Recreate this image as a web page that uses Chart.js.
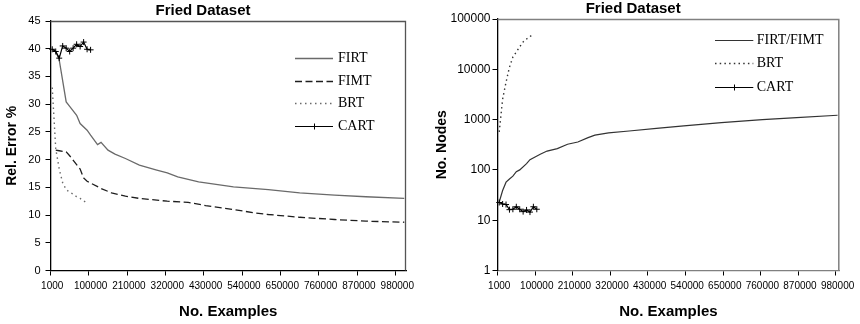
<!DOCTYPE html>
<html><head><meta charset="utf-8">
<script src="https://cdn.jsdelivr.net/npm/chart.js@4/dist/chart.umd.min.js"></script>
<style>
html,body{margin:0;padding:0;background:#fff;}
#wrap{position:relative;width:860px;height:324px;overflow:hidden;background:#fff;}
#c1{position:absolute;left:0;top:0;}
#c2{position:absolute;left:427px;top:0;}
</style></head><body>
<div id="wrap"><canvas id="c1" width="419" height="324"></canvas><canvas id="c2" width="433" height="324"></canvas></div>
<script>
// ---- categories (No. Examples) ----
const exampleLabels = [1000, 5000,
 10000, 20000, 30000, 40000, 50000, 60000, 70000, 80000, 90000, 100000,
 110000, 120000, 130000, 140000, 150000, 160000, 170000, 180000, 190000, 200000,
 210000, 220000, 230000, 240000, 250000, 260000, 270000, 280000, 290000, 300000,
 310000, 320000, 330000, 340000, 350000, 360000, 370000, 380000, 390000, 400000,
 410000, 420000, 430000, 440000, 450000, 460000, 470000, 480000, 490000, 500000,
 510000, 520000, 530000, 540000, 550000, 560000, 570000, 580000, 590000, 600000,
 610000, 620000, 630000, 640000, 650000, 660000, 670000, 680000, 690000, 700000,
 710000, 720000, 730000, 740000, 750000, 760000, 770000, 780000, 790000, 800000,
 810000, 820000, 830000, 840000, 850000, 860000, 870000, 880000, 890000, 900000,
 910000, 920000, 930000, 940000, 950000, 960000, 970000, 980000, 990000, 1000000];
const nodeChartLabels = exampleLabels.slice(0, 100);
const xLabelEvery = 11;

// ---- left chart: Rel. Error % ----
const firtX = [1000, 5000, 10000, 30000, 40000, 60000, 70000, 90000, 100000, 120000, 130000, 150000, 170000, 200000, 240000, 290000, 320000, 350000, 410000, 510000, 610000, 700000, 800000, 890000, 1000000];
const firtErr = [39.9, 39.5, 38.0, 30.4, 29.6, 28.0, 26.5, 25.3, 24.4, 22.7, 23.1, 21.7, 21.0, 20.2, 19.0, 18.1, 17.6, 16.9, 16.0, 15.1, 14.6, 14.0, 13.6, 13.3, 13.0];
const fimtX = [5000, 10000, 30000, 40000, 70000, 80000, 90000, 130000, 160000, 200000, 240000, 320000, 380000, 430000, 510000, 570000, 610000, 700000, 800000, 890000, 1000000];
const fimtErr = [21.7, 21.6, 21.4, 20.7, 18.3, 16.7, 16.1, 14.8, 14.0, 13.4, 13.0, 12.5, 12.3, 11.7, 11.0, 10.4, 10.1, 9.6, 9.2, 8.9, 8.7];
const brtX = [1000, 5000, 10000, 20000, 30000, 40000, 50000, 60000, 70000, 80000, 90000];
const brtErr = [33.0, 22.0, 18.3, 15.8, 14.6, 14.1, 13.8, 13.3, 13.0, 12.6, 12.1];
const cartX = [1000, 5000, 10000, 20000, 30000, 40000, 50000, 60000, 70000, 80000, 90000, 100000];
const cartErr = [39.9, 39.5, 38.3, 40.5, 40.1, 39.5, 40.1, 40.8, 40.4, 41.2, 39.9, 39.8];
const errTickMin = 0, errTickMax = 45, errTickStep = 5;

// ---- right chart: No. Nodes (log) ----
const firtNodesX = [1000, 5000, 10000, 20000, 30000, 40000, 50000, 70000, 80000, 110000, 130000, 160000, 190000, 220000, 250000, 270000, 310000, 370000, 450000, 530000, 640000, 760000, 860000, 980000];
const firtNodes = [23, 39, 57, 66, 75, 92, 100, 133, 160, 205, 237, 265, 323, 359, 438, 490, 545, 593, 668, 750, 870, 1000, 1090, 1220];
const brtNodesX = [1000, 5000, 10000, 20000, 30000, 40000, 50000, 60000, 70000, 80000, 90000];
const brtNodes = [569, 2550, 5560, 11000, 17500, 22000, 28000, 35000, 40000, 44800, 49600];
const cartNodesX = [1000, 5000, 10000, 20000, 30000, 40000, 50000, 60000, 70000, 80000, 90000, 100000];
const cartNodes = [22.5, 21, 20.5, 16.2, 16.5, 18.5, 16.5, 14.8, 16, 14.5, 18.5, 16.5];
const nodeTicks = [1, 10, 100, 1000, 10000, 100000];

const SANS = "'Liberation Sans', Arial, sans-serif";
const SERIF = "'Liberation Serif', 'Times New Roman', serif";
Chart.defaults.color = '#000';
Chart.defaults.font.family = SANS;

const pts = (xs, ys) => xs.map((x, i) => ({x: x, y: ys[i]}));

const frame = {
  id: 'frame',
  beforeDatasetsDraw(chart, args, opts) {
    const {ctx, chartArea: a} = chart;
    ctx.save();
    ctx.strokeStyle = opts.color; ctx.lineWidth = opts.width;
    ctx.beginPath();
    ctx.moveTo(a.left, a.top + 0.5); ctx.lineTo(a.right - 0.5, a.top + 0.5); ctx.lineTo(a.right - 0.5, a.bottom);
    ctx.stroke();
    ctx.restore();
  }
};

const insideLegend = {
  id: 'insideLegend',
  afterDraw(chart, args, opts) {
    const {ctx, chartArea: a} = chart;
    ctx.save();
    ctx.font = opts.font;
    ctx.textBaseline = 'middle';
    ctx.textAlign = 'left';
    chart.data.datasets.forEach((ds, i) => {
      const y = Math.round(a.top + opts.y0 + i * opts.step) + 0.5;
      const x0 = a.right + opts.x0, x1 = a.right + opts.x1;
      ctx.save();
      ctx.strokeStyle = ds.borderColor; ctx.lineWidth = ds.borderWidth;
      ctx.setLineDash(ds.borderDash || []);
      ctx.beginPath(); ctx.moveTo(x0, y); ctx.lineTo(x1, y); ctx.stroke();
      ctx.restore();
      if (ds.pointRadius > 0) {
        const cx = Math.round((x0 + x1) / 2) + 0.5, r = ds.pointRadius;
        ctx.save(); ctx.strokeStyle = ds.pointBorderColor; ctx.lineWidth = 1;
        ctx.beginPath(); ctx.moveTo(cx, y - r); ctx.lineTo(cx, y + r); ctx.moveTo(cx - r, y); ctx.lineTo(cx + r, y); ctx.stroke();
        ctx.restore();
      }
      ctx.fillStyle = '#000';
      ctx.fillText(ds.label, a.right + opts.tx, y);
    });
    ctx.restore();
  }
};

function xScale(labelsArr, bottomColor) {
  return {
    type: 'category',
    offset: true,
    afterFit: s => { s.height = 53.5; },
    border: {display: true, color: bottomColor, width: 1.3},
    grid: {offset: true, drawOnChartArea: false, drawTicks: true, tickLength: 5, lineWidth: 1,
      color: c => (c.index % xLabelEvery === 0 && c.index < labelsArr.length) ? '#000' : 'rgba(0,0,0,0)'},
    ticks: {autoSkip: false, maxRotation: 0, minRotation: 0, padding: 5, color: '#000',
      font: {size: 10, family: SANS},
      callback: function(v, i) { return i % xLabelEvery === 0 ? String(this.getLabelForValue(v)) : ''; }},
    title: {display: true, text: 'No. Examples', color: '#000', font: {size: 15, weight: 'bold', family: SANS}, padding: {top: 0, bottom: 3}}
  };
}

new Chart(document.getElementById('c1'), {
  type: 'line',
  data: {
    labels: exampleLabels,
    datasets: [
      {label: 'FIRT', data: pts(firtX, firtErr), borderColor: '#6a6a6a', borderWidth: 1.3, pointRadius: 0, tension: 0},
      {label: 'FIMT', data: pts(fimtX, fimtErr), borderColor: '#1e1e1e', borderWidth: 1.3, borderDash: [7, 3.5], pointRadius: 0, tension: 0},
      {label: 'BRT', data: pts(brtX, brtErr), borderColor: '#6a6a6a', borderWidth: 1.4, borderDash: [1.5, 3.5], pointRadius: 0, tension: 0},
      {label: 'CART', data: pts(cartX, cartErr), borderColor: '#000', borderWidth: 1.2, pointRadius: 3, pointStyle: 'cross', pointBorderColor: '#000', pointBorderWidth: 1, tension: 0, order: -1}
    ]
  },
  options: {
    responsive: false, animation: false, events: [],
    layout: {padding: {left: 0, right: 13, top: 0, bottom: 0}},
    plugins: {
      legend: {display: false}, tooltip: {enabled: false},
      title: {display: true, text: 'Fried Dataset', color: '#000', font: {size: 15, weight: 'bold', family: SANS}, padding: {top: 1.5, bottom: 1.5}},
      frame: {color: '#555', width: 1.3},
      insideLegend: {font: '14px ' + SERIF, x0: -111, x1: -73, tx: -68, y0: 37, step: 22.7}
    },
    scales: {
      x: xScale(exampleLabels, '#000'),
      y: {
        type: 'linear', min: errTickMin, max: errTickMax,
        afterFit: s => { s.width = 50.5; },
        border: {display: true, color: '#000', width: 1.3},
        grid: {drawOnChartArea: false, drawTicks: true, tickLength: 5, color: '#000'},
        ticks: {stepSize: errTickStep, padding: 5, color: '#000', font: {size: 11, family: SANS}},
        title: {display: true, text: 'Rel. Error %', color: '#000', font: {size: 14, weight: 'bold', family: SANS}, padding: {top: 4, bottom: 0}}
      }
    }
  },
  plugins: [frame, insideLegend]
});

new Chart(document.getElementById('c2'), {
  type: 'line',
  data: {
    labels: nodeChartLabels,
    datasets: [
      {label: 'FIRT/FIMT', data: pts(firtNodesX, firtNodes), borderColor: '#333', borderWidth: 1.2, pointRadius: 0, tension: 0},
      {label: 'BRT', data: pts(brtNodesX, brtNodes), borderColor: '#333', borderWidth: 1.4, borderDash: [1.5, 3.2], pointRadius: 0, tension: 0},
      {label: 'CART', data: pts(cartNodesX, cartNodes), borderColor: '#000', borderWidth: 1.2, pointRadius: 3, pointStyle: 'cross', pointBorderColor: '#000', pointBorderWidth: 1, tension: 0, order: -1}
    ]
  },
  options: {
    responsive: false, animation: false, events: [],
    layout: {padding: {left: 0, right: 20.7, top: 0, bottom: 0}},
    plugins: {
      legend: {display: false}, tooltip: {enabled: false},
      title: {display: true, text: 'Fried Dataset', color: '#000', font: {size: 15, weight: 'bold', family: SANS}, padding: {top: 0, bottom: 1}},
      frame: {color: '#808080', width: 1.5},
      insideLegend: {font: '14px ' + SERIF, x0: -124.3, x1: -86, tx: -82.6, y0: 21, step: 23.3}
    },
    scales: {
      x: xScale(nodeChartLabels, '#808080'),
      y: {
        type: 'logarithmic', min: 1, max: 100000,
        afterFit: s => { s.width = 70.5; },
        afterBuildTicks: s => { s.ticks = nodeTicks.map(v => ({value: v})); },
        border: {display: true, color: '#000', width: 1.3},
        grid: {drawOnChartArea: false, drawTicks: true, tickLength: 5, color: '#000'},
        ticks: {padding: 2, color: '#000', font: {size: 12, family: SANS}, callback: v => String(v)},
        title: {display: true, text: 'No. Nodes', color: '#000', font: {size: 14, weight: 'bold', family: SANS}, padding: {top: 6.6, bottom: 0}}
      }
    }
  },
  plugins: [frame, insideLegend]
});
</script>
</body></html>
